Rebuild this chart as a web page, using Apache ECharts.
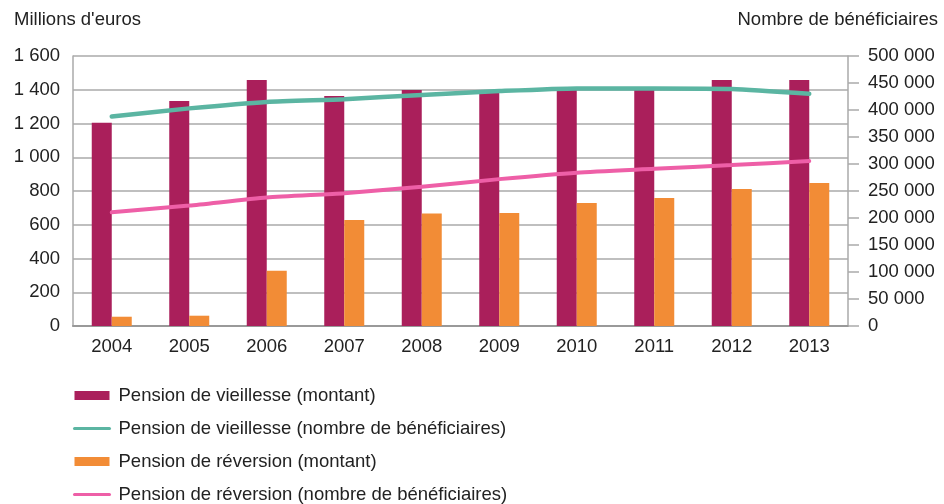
<!DOCTYPE html>
<html><head><meta charset="utf-8">
<script src="https://cdn.jsdelivr.net/npm/echarts@6/dist/echarts.min.js"></script>
<style>html,body{margin:0;padding:0;background:#fff}#c{width:944px;height:504px}</style>
</head><body><div id="c"></div>
<script>
var years = ['2004','2005','2006','2007','2008','2009','2010','2011','2012','2013'];
var vieillesseMontant = [1205, 1333, 1458, 1363, 1398, 1390, 1400, 1400, 1458, 1458];
var reversionMontant = [55, 61, 328, 628, 666, 670, 729, 758, 812, 847];
var vieillesseBenef = [388000, 403000, 415000, 420000, 428000, 435000, 440000, 440000, 439000, 430000];
var reversionBenef = [210500, 223000, 238000, 246000, 258000, 272000, 284000, 291000, 298000, 305500];
var leftTicks = {min: 0, max: 1600, interval: 200};
var rightTicks = {min: 0, max: 500000, interval: 50000};
var names = ['Pension de vieillesse (montant)', 'Pension de vieillesse (nombre de bénéficiaires)', 'Pension de réversion (montant)', 'Pension de réversion (nombre de bénéficiaires)'];

function fmt(v){ return String(v).replace(/\B(?=(\d{3})+(?!\d))/g, ' '); }
var FONT = 'Liberation Sans';
var chart = echarts.init(document.getElementById('c'));
chart.setOption({
  animation: false,
  textStyle: {fontFamily: FONT},
  graphic: [
    {type: 'text', left: 14, top: 10, style: {text: "Millions d'euros", font: '18.5px "Liberation Sans"', fill: '#222'}},
    {type: 'text', right: 6, top: 10, style: {text: 'Nombre de bénéficiaires', font: '18.5px "Liberation Sans"', fill: '#222'}}
  ],
  grid: {left: 73, right: 96, top: 56, height: 270},
  legend: {
    orient: 'vertical', left: 73, top: 386, height: 160, itemGap: 14, itemWidth: 35, itemHeight: 9, padding: 0,
    textStyle: {fontSize: 18.5, color: '#222', fontFamily: FONT, padding: [0, 0, 0, 4]},
    lineStyle: {width: 3},
    data: [
      {name: names[0], icon: 'rect'},
      {name: names[1], itemStyle: {opacity: 0}},
      {name: names[2], icon: 'rect'},
      {name: names[3], itemStyle: {opacity: 0}}
    ]
  },
  xAxis: {
    type: 'category', data: years,
    axisLine: {lineStyle: {color: '#999', width: 2}},
    axisTick: {inside: true, length: 6, lineStyle: {color: '#999', width: 1.5}},
    axisLabel: {fontSize: 18.5, color: '#222', margin: 11}
  },
  yAxis: [
    {type: 'value', min: leftTicks.min, max: leftTicks.max, interval: leftTicks.interval,
     axisLine: {show: true, lineStyle: {color: '#aaa', width: 1.5}},
     axisTick: {show: false},
     splitLine: {lineStyle: {color: '#aaa', width: 1.5}},
     axisLabel: {fontSize: 18.5, color: '#222', margin: 13, formatter: fmt}},
    {type: 'value', min: rightTicks.min, max: rightTicks.max, interval: rightTicks.interval,
     position: 'right',
     axisLine: {show: true, lineStyle: {color: '#aaa', width: 1.5}},
     axisTick: {show: true, length: 11, lineStyle: {color: '#aaa', width: 1.5}},
     splitLine: {show: false},
     axisLabel: {fontSize: 18.5, color: '#222', margin: 20, formatter: fmt}}
  ],
  series: [
    {name: names[0], type: 'bar', data: vieillesseMontant, barWidth: 20, barGap: '0%', itemStyle: {color: '#AA1F5B'}, z: 2},
    {name: names[2], type: 'bar', data: reversionMontant, barWidth: 20, barGap: '0%', itemStyle: {color: '#F28C36'}, z: 2},
    {name: names[1], type: 'line', yAxisIndex: 1, data: vieillesseBenef, symbol: 'none', smooth: 0.2,
     lineStyle: {color: '#5BB5A2', width: 4.5, cap: 'round'}, itemStyle: {color: '#5BB5A2'}, z: 3},
    {name: names[3], type: 'line', yAxisIndex: 1, data: reversionBenef, symbol: 'none', smooth: 0.2,
     lineStyle: {color: '#EE5FA7', width: 4, cap: 'round'}, itemStyle: {color: '#EE5FA7'}, z: 3}
  ]
});
</script></body></html>
